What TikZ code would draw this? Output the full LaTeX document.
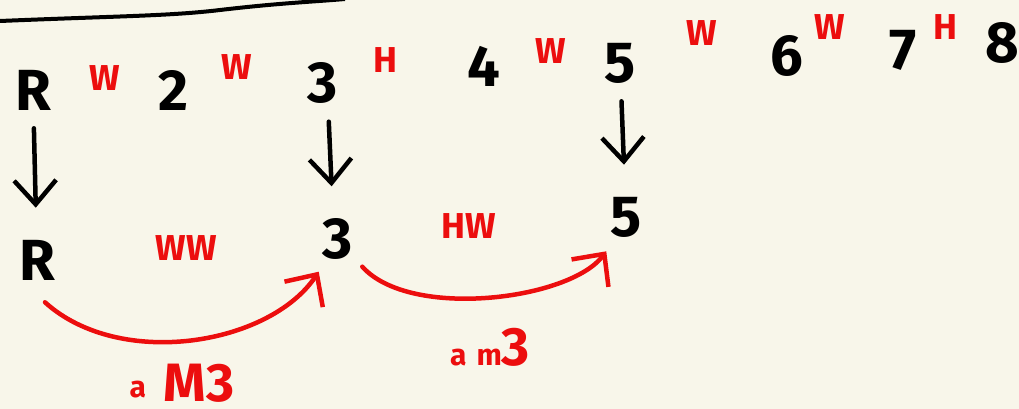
\documentclass[tikz,border=0pt]{standalone}
\usepackage{fontspec}
\setmainfont{Fira Sans}
\usetikzlibrary{arrows.meta}
\definecolor{paper}{RGB}{248,246,234}
\definecolor{pen}{RGB}{236,14,14}

\begin{document}
\begin{tikzpicture}[x=1pt,y=-1pt,
  num/.style={inner sep=0pt,font=\fontsize{58}{58}\selectfont\bfseries},
  iv/.style={inner sep=0pt,text=pen,font=\fontsize{36}{36}\selectfont\bfseries},
  lab/.style={inner sep=0pt,anchor=base,text=pen,font=\fontsize{54}{54}\selectfont\bfseries},
  blk/.style={line width=4.5pt,line cap=round,-{Straight Barb[length=24pt,width=42pt]},shorten <=18pt,shorten >=32pt},
  rd/.style={pen,line width=4.5pt,line cap=round,-{Straight Barb[length=24pt,width=46pt]}}]
\useasboundingbox[fill=paper] (0,0) rectangle (1019,409);
%line on top
\draw[line width=4pt] (0,21) .. controls (120,16) and (170,16) .. (220,10) .. controls (280,3) and (310,2) .. (345,-1);
%scale
\node[num] (t1) at (33,90) {R};
\node[iv] (s1) at (105,78) {W};
\node[num] (t2) at (173,90) {2};
\node[iv] (s2) at (237,67) {W};
\node[num] (t3) at (323,83) {3};
\node[iv] (s3) at (385,60) {H};
\node[num] (t4) at (484,66) {4};
\node[iv] (s4) at (551,51) {W};
\node[num] (t5) at (620,63) {5};
\node[iv] (s5) at (702,33) {W};
\node[num] (t6) at (787,56) {6};
\node[iv] (s6) at (830,27) {W};
\node[num] (t7) at (903,50) {7};
\node[iv] (s7) at (945,27) {H};
\node[num] (t8) at (1002,43) {8};
%chord
\node[num] (b1) at (37,260) {R};
\node[iv] (ww) at (186,248) {WW};
\node[num] (b3) at (338,239) {3};
\node[iv] (hw) at (469,226) {HW};
\node[num] (b5) at (626,217) {5};
\draw[blk] (t1) -- (b1);
\draw[blk] ([xshift=5pt]t3.south) -- ([xshift=-5pt]b3.north);
\draw[blk] (t5) -- (b5);
%intervals
\draw[rd] ([shift={(8,22)}]b1.south) .. controls (120,370) and (270,345) .. ([shift={(-4,12)}]b3.south west);
\draw[rd] ([shift={(9,7)}]b3.south east) .. controls (410,320) and (570,300) .. ([shift={(-4,14)}]b5.south west);
\node[lab] (lab1) at (182,401) {\raisebox{4pt}{\fontsize{30}{30}\selectfont\bfseries a}\hspace{18pt}M3};
\node[lab] (lab2) at (490,365) {{\fontsize{30}{30}\selectfont\bfseries a\hspace{10pt}m}3};
\end{tikzpicture}
\end{document}
